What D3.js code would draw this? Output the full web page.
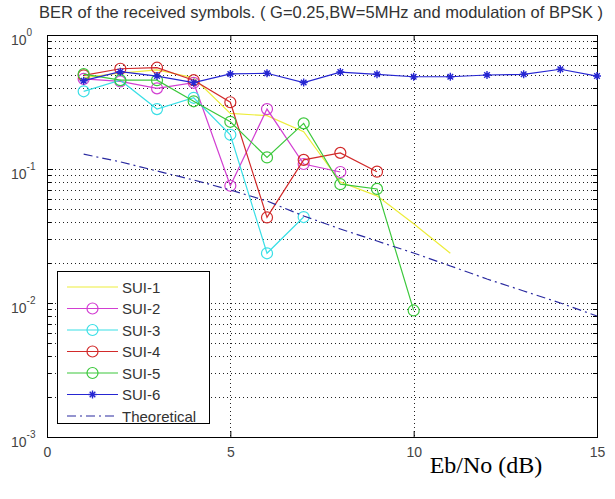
<!DOCTYPE html>
<html>
<head>
<meta charset="utf-8">
<script src="https://cdn.jsdelivr.net/npm/d3@7"></script>
<style>
  body { margin: 0; background: #fff; }
  svg { display: block; }
</style>
</head>
<body>
<div id="chart"></div>
<script>
// data
var ebno = [1, 2, 3, 4, 5, 6, 7, 8, 9, 10, 11, 12, 13, 14, 15];
var sui1 = [0.48, 0.52, 0.55, 0.48, 0.26, 0.25, 0.19, 0.080, 0.063, 0.039, 0.0235];
var sui2 = [0.47, 0.45, 0.40, 0.44, 0.075, 0.28, 0.109, 0.095];
var sui3 = [0.38, 0.46, 0.28, 0.34, 0.18, 0.0235, 0.0438];
var sui4 = [0.50, 0.56, 0.57, 0.46, 0.315, 0.0435, 0.117, 0.132, 0.0955];
var sui5 = [0.51, 0.46, 0.46, 0.32, 0.225, 0.122, 0.219, 0.077, 0.071, 0.0088];
var sui6 = [0.456, 0.532, 0.494, 0.441, 0.512, 0.518, 0.442, 0.529, 0.509, 0.488, 0.488, 0.503, 0.509, 0.555, 0.494];
var theory = [0.129, 0.113, 0.0966, 0.0828, 0.0697, 0.0577, 0.0446, 0.0357, 0.029, 0.0236, 0.0189, 0.0151, 0.0123, 0.0100, 0.0080];

var seriesNames = ["SUI-1", "SUI-2", "SUI-3", "SUI-4", "SUI-5", "SUI-6", "Theoretical"];
var xTicks = [0, 5, 10, 15];
var yExps = [0, -1, -2, -3];

var W = 615, H = 499;
// plot box (note: "top" is taken by window.top, so use own names)
var boxL = 47, boxR = 597, boxT = 35, boxB = 437;

var series = [
	{name: seriesNames[0], vals: sui1, color: "#eded3a", mark: "none"},
	{name: seriesNames[1], vals: sui2, color: "#d23ed2", mark: "o"},
	{name: seriesNames[2], vals: sui3, color: "#3adfe6", mark: "o"},
	{name: seriesNames[3], vals: sui4, color: "#d22a2a", mark: "o"},
	{name: seriesNames[4], vals: sui5, color: "#3cc83c", mark: "o"},
	{name: seriesNames[5], vals: sui6, color: "#2626d2", mark: "*"},
	{name: seriesNames[6], vals: theory, color: "#2a2aa0", mark: "none", dash: "9,4,2,4"}
];

var svg = d3.select("#chart").append("svg").attr("width", W).attr("height", H);

var x = d3.scaleLinear().domain([0, 15]).range([boxL, boxR]);
var y = d3.scaleLog().domain([1e-3, 1]).range([boxB, boxT]);

// grid: every minor log step plus the decades
var yGrid = [];
for (var e = -3; e < 0; e++) {
	for (var m = 1; m <= 9; m++) yGrid.push(m * Math.pow(10, e));
}
function py(d) { return Math.round(y(d)) + 0.5; }
function isDecade(d) { return Math.abs(Math.log10(d) - Math.round(Math.log10(d))) < 1e-9; }

var grid = svg.append("g").attr("stroke", "#222").attr("stroke-width", 1).attr("stroke-dasharray", "1,3");
grid.selectAll(".gy").data(yGrid.filter(function(v) { return v > 1.5e-3; })).enter().append("line")
	.attr("x1", boxL).attr("x2", boxR)
	.attr("y1", py).attr("y2", py);
grid.selectAll(".gx").data([5, 10]).enter().append("line")
	.attr("y1", boxT).attr("y2", boxB)
	.attr("x1", function(d) { return Math.round(x(d)) + 0.5; })
	.attr("x2", function(d) { return Math.round(x(d)) + 0.5; });

// minor ticks on left and right
var ticks = svg.append("g").attr("stroke", "#000").attr("stroke-width", 1);
ticks.selectAll(".tl").data(yGrid).enter().append("line")
	.attr("x1", boxL).attr("x2", function(d) { return boxL + (isDecade(d) ? 6 : 4); })
	.attr("y1", py).attr("y2", py);
ticks.selectAll(".tr").data(yGrid).enter().append("line")
	.attr("x1", boxR).attr("x2", function(d) { return boxR - (isDecade(d) ? 6 : 4); })
	.attr("y1", py).attr("y2", py);

// x axis, ticks point inward
var xAxis = d3.axisBottom(x).tickValues(xTicks).tickSize(-6).tickPadding(10).tickFormat(d3.format("d"));
var gx = svg.append("g").attr("transform", "translate(0," + boxB + ")").call(xAxis);
gx.select(".domain").remove();
gx.selectAll("text").attr("font-family", "Arial, 'Liberation Sans', sans-serif").attr("font-size", 14).attr("fill", "#444");
var gxTop = svg.append("g").attr("transform", "translate(0," + boxT + ")")
	.call(d3.axisTop(x).tickValues(xTicks).tickSize(-6).tickFormat(""));
gxTop.select(".domain").remove();

// box
svg.append("rect").attr("x", boxL + 0.5).attr("y", boxT + 0.5)
	.attr("width", boxR - boxL).attr("height", boxB - boxT)
	.attr("fill", "none").attr("stroke", "#000");

// y labels 10^n
var yl = svg.append("g").attr("font-family", "Arial, 'Liberation Sans', sans-serif").attr("fill", "#444");
yExps.forEach(function(n) {
	var ty = y(Math.pow(10, n));
	var t = yl.append("text").attr("x", 11).attr("y", ty + 10).attr("font-size", 14);
	t.append("tspan").text("10");
	t.append("tspan").attr("dy", -9).attr("font-size", 10).text(n);
});

// lines
var line = d3.line()
	.x(function(d, i) { return x(ebno[i]); })
	.y(function(d) { return y(d); });

var plot = svg.append("g");
series.forEach(function(s) {
	plot.append("path").datum(s.vals)
		.attr("d", line)
		.attr("fill", "none")
		.attr("stroke", s.color)
		.attr("stroke-width", 1.2)
		.attr("stroke-dasharray", s.dash || null);
	drawMarks(plot, s, s.vals.map(function(d, i) { return [x(ebno[i]), y(d)]; }));
});

function drawMarks(g, s, pts) {
	if (s.mark === "o") {
		g.selectAll(null).data(pts).enter().append("circle")
			.attr("cx", function(p) { return p[0]; }).attr("cy", function(p) { return p[1]; })
			.attr("r", 5.5).attr("fill", "none").attr("stroke", s.color).attr("stroke-width", 1.2);
	} else if (s.mark === "*") {
		var r = 4;
		pts.forEach(function(p) {
			var star = "M" + (p[0] - r) + "," + p[1] + "h" + (2 * r) +
				"M" + p[0] + "," + (p[1] - r) + "v" + (2 * r) +
				"M" + (p[0] - r * 0.7) + "," + (p[1] - r * 0.7) + "l" + (1.4 * r) + "," + (1.4 * r) +
				"M" + (p[0] - r * 0.7) + "," + (p[1] + r * 0.7) + "l" + (1.4 * r) + "," + (-1.4 * r);
			g.append("path").attr("d", star).attr("stroke", s.color).attr("stroke-width", 1.4);
		});
	}
}

// legend
var lg = svg.append("g");
lg.append("rect").attr("x", 57.5).attr("y", 271.5).attr("width", 152).attr("height", 152)
	.attr("fill", "#fff").attr("stroke", "#000");
series.forEach(function(s, i) {
	var ly = 287 + i * 21.5;
	lg.append("line").attr("x1", 67).attr("x2", 118).attr("y1", ly).attr("y2", ly)
		.attr("stroke", s.color).attr("stroke-width", 1.2).attr("stroke-dasharray", s.dash || null);
	drawMarks(lg, s, [[92.5, ly]]);
	lg.append("text").attr("x", 122).attr("y", ly + 5.5)
		.attr("font-family", "Arial, 'Liberation Sans', sans-serif").attr("font-size", 15).attr("fill", "#333")
		.text(s.name);
});

// title and x label
svg.append("text").attr("x", 321).attr("y", 18).attr("text-anchor", "middle")
	.attr("font-family", "Arial, 'Liberation Sans', sans-serif").attr("font-size", 16.5).attr("fill", "#333")
	.text("BER of the received symbols. ( G=0.25,BW=5MHz and modulation of BPSK )");
svg.append("text").attr("x", 486).attr("y", 473).attr("text-anchor", "middle")
	.attr("font-family", "'Liberation Serif', 'Times New Roman', serif").attr("font-size", 24).attr("fill", "#000")
	.text("Eb/No (dB)");
</script>
</body>
</html>
